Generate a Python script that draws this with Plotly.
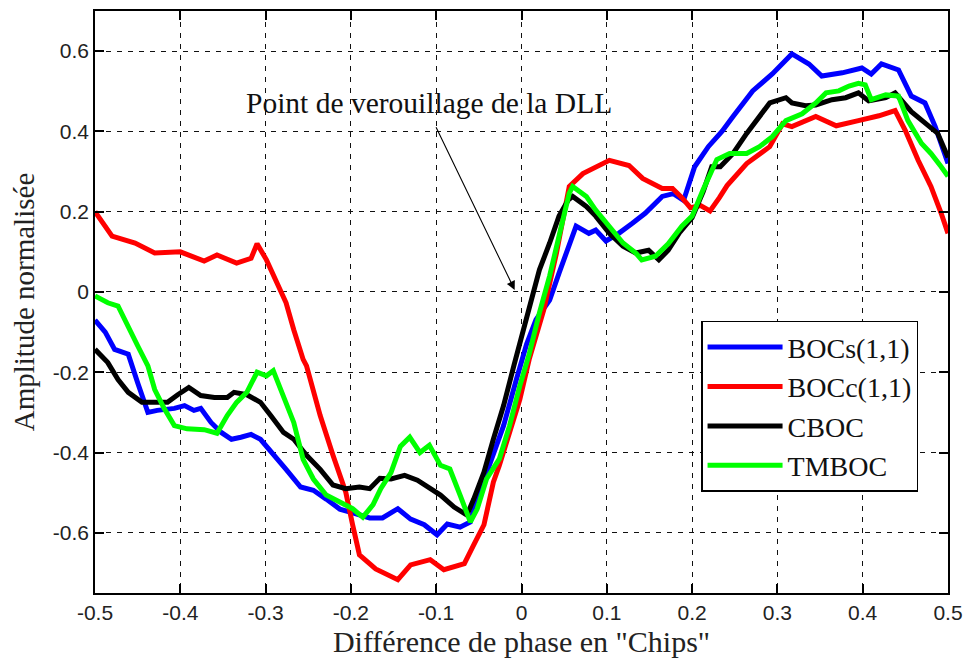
import plotly.graph_objects as go

# ---- data ----
x_bocs = [-0.5, -0.488, -0.477, -0.461, -0.45, -0.438, -0.427, -0.407, -0.395, -0.384, -0.376, -0.364,
          -0.352, -0.34, -0.329, -0.317, -0.306, -0.291, -0.276, -0.259, -0.244, -0.229, -0.213, -0.198,
          -0.178, -0.163, -0.145, -0.130, -0.114, -0.099, -0.087, -0.072, -0.06, -0.052, -0.037, -0.021,
          -0.006, 0.006, 0.017, 0.033, 0.044, 0.056, 0.064, 0.079, 0.087, 0.099, 0.114, 0.13, 0.145, 0.165,
          0.178, 0.19, 0.203, 0.219, 0.235, 0.248, 0.271, 0.294, 0.317, 0.337, 0.352, 0.376, 0.399, 0.41,
          0.422, 0.442, 0.457, 0.473, 0.485, 0.5]
y_bocs = [-0.07, -0.10, -0.143, -0.155, -0.226, -0.30, -0.295, -0.29, -0.283, -0.295, -0.29, -0.325,
          -0.35, -0.367, -0.362, -0.355, -0.367, -0.407, -0.442, -0.486, -0.494, -0.516, -0.541, -0.55,
          -0.563, -0.563, -0.54, -0.566, -0.58, -0.605, -0.578, -0.586, -0.573, -0.516, -0.424, -0.333,
          -0.218, -0.13, -0.069, -0.02, 0.047, 0.114, 0.164, 0.146, 0.154, 0.127, 0.146, 0.171, 0.196, 0.238,
          0.245, 0.228, 0.312, 0.362, 0.40, 0.437, 0.501, 0.543, 0.593, 0.568, 0.538, 0.546, 0.558, 0.543,
          0.568, 0.553, 0.488, 0.471, 0.412, 0.32]

x_bocc = [-0.5, -0.48, -0.453, -0.43, -0.40, -0.372, -0.357, -0.334, -0.317, -0.31, -0.299, -0.287,
          -0.276, -0.267, -0.256, -0.252, -0.236, -0.221, -0.206, -0.198, -0.19, -0.171, -0.16, -0.145,
          -0.13, -0.107, -0.091, -0.067, -0.056, -0.044, -0.033, -0.026, -0.014, -0.002, 0.009, 0.026,
          0.041, 0.049, 0.056, 0.072, 0.095, 0.103, 0.126, 0.142, 0.165, 0.177, 0.188, 0.198, 0.21, 0.221,
          0.232, 0.241, 0.264, 0.291, 0.306, 0.317, 0.345, 0.369, 0.395, 0.419, 0.438, 0.45, 0.465, 0.48,
          0.492, 0.5]
y_bocc = [0.2, 0.139, 0.122, 0.097, 0.10, 0.077, 0.092, 0.072, 0.084, 0.12, 0.08, 0.022,
          -0.027, -0.094, -0.168, -0.184, -0.308, -0.407, -0.499, -0.58, -0.655, -0.69, -0.70, -0.717,
          -0.68, -0.667, -0.692, -0.677, -0.63, -0.58, -0.474, -0.432, -0.35, -0.268, -0.168, -0.045,
          0.097, 0.18, 0.263, 0.295, 0.32, 0.328, 0.315, 0.283, 0.258, 0.258, 0.235, 0.21, 0.215, 0.202,
          0.235, 0.265, 0.32, 0.362, 0.419, 0.412, 0.437, 0.414, 0.427, 0.439, 0.452, 0.402, 0.328, 0.263,
          0.196, 0.146]

x_cboc = [-0.5, -0.485, -0.473, -0.461, -0.445, -0.43, -0.415, -0.403, -0.39, -0.376, -0.36, -0.345,
          -0.337, -0.322, -0.306, -0.294, -0.279, -0.267, -0.252, -0.236, -0.221, -0.206, -0.19, -0.178,
          -0.166, -0.153, -0.137, -0.122, -0.107, -0.095, -0.079, -0.064, -0.056, -0.044, -0.033, -0.021,
          -0.009, 0.002, 0.009, 0.021, 0.033, 0.044, 0.055, 0.06, 0.076, 0.087, 0.103, 0.119, 0.134, 0.149,
          0.161, 0.172, 0.186, 0.2, 0.213, 0.223, 0.233, 0.248, 0.264, 0.279, 0.291, 0.31, 0.317, 0.333,
          0.345, 0.364, 0.38, 0.395, 0.407, 0.427, 0.438, 0.457, 0.473, 0.488, 0.5]
y_cboc = [-0.143, -0.176, -0.218, -0.25, -0.275, -0.275, -0.275, -0.256, -0.238, -0.258, -0.263, -0.263,
          -0.25, -0.256, -0.275, -0.308, -0.35, -0.367, -0.407, -0.442, -0.481, -0.49, -0.486, -0.49,
          -0.464, -0.466, -0.457, -0.469, -0.49, -0.506, -0.536, -0.556, -0.516, -0.449, -0.367, -0.283,
          -0.184, -0.10, -0.035, 0.055, 0.122, 0.189, 0.23, 0.238, 0.213, 0.189, 0.146, 0.114, 0.097, 0.104,
          0.08, 0.104, 0.15, 0.185, 0.25, 0.312, 0.312, 0.345, 0.395, 0.437, 0.471, 0.484, 0.471, 0.464,
          0.466, 0.479, 0.484, 0.496, 0.476, 0.484, 0.496, 0.449, 0.419, 0.395, 0.335]

x_tmboc = [-0.5, -0.485, -0.473, -0.461, -0.45, -0.438, -0.43, -0.419, -0.407, -0.392, -0.372, -0.357,
           -0.345, -0.334, -0.322, -0.31, -0.299, -0.291, -0.279, -0.267, -0.256, -0.244, -0.229, -0.213,
           -0.198, -0.186, -0.174, -0.165, -0.153, -0.142, -0.131, -0.119, -0.108, -0.095, -0.084, -0.072,
           -0.06, -0.052, -0.041, -0.026, -0.014, -0.002, 0.009, 0.021, 0.033, 0.044, 0.056, 0.06, 0.076,
           0.087, 0.103, 0.119, 0.134, 0.141, 0.157, 0.172, 0.188, 0.2, 0.213, 0.229, 0.244, 0.264, 0.279,
           0.294, 0.31, 0.329, 0.345, 0.357, 0.372, 0.384, 0.395, 0.403, 0.41, 0.427, 0.442, 0.453, 0.469,
           0.48, 0.492, 0.5]
y_tmboc = [-0.01, -0.027, -0.035, -0.09, -0.134, -0.184, -0.243, -0.29, -0.333, -0.341, -0.343, -0.352,
           -0.308, -0.275, -0.25, -0.2, -0.209, -0.196, -0.258, -0.325, -0.417, -0.466, -0.506, -0.524,
           -0.54, -0.561, -0.53, -0.49, -0.45, -0.385, -0.362, -0.40, -0.382, -0.432, -0.441, -0.506,
           -0.573, -0.541, -0.466, -0.416, -0.333, -0.234, -0.155, -0.052, 0.04, 0.139, 0.246, 0.263, 0.238,
           0.204, 0.163, 0.122, 0.097, 0.08, 0.089, 0.12, 0.164, 0.189, 0.255, 0.33, 0.345, 0.345, 0.362,
           0.387, 0.427, 0.444, 0.471, 0.496, 0.501, 0.513, 0.52, 0.516, 0.479, 0.491, 0.488, 0.427, 0.37,
           0.345, 0.312, 0.288]

series_names = ["BOCs(1,1)", "BOCc(1,1)", "CBOC", "TMBOC"]
series_colors = ["#0000ff", "#ff0000", "#000000", "#00ff00"]

x_tickvals = [-0.5, -0.4, -0.3, -0.2, -0.1, 0, 0.1, 0.2, 0.3, 0.4, 0.5]
x_ticktext = ["-0.5", "-0.4", "-0.3", "-0.2", "-0.1", "0", "0.1", "0.2", "0.3", "0.4", "0.5"]
y_tickvals = [-0.6, -0.4, -0.2, 0, 0.2, 0.4, 0.6]
y_ticktext = ["-0.6", "-0.4", "-0.2", "0", "0.2", "0.4", "0.6"]

SERIF = "Liberation Serif, Times New Roman, serif"
SANS = "Liberation Sans, Arial, sans-serif"

fig = go.Figure()
for xs, ys, name, col in zip([x_bocs, x_bocc, x_cboc, x_tmboc],
                             [y_bocs, y_bocc, y_cboc, y_tmboc],
                             series_names, series_colors):
    fig.add_trace(go.Scatter(x=xs, y=ys, mode="lines", name=name,
                             line=dict(color=col, width=5)))

axis_common = dict(
    showline=True, linecolor="black", linewidth=1.5, mirror="ticks",
    ticks="inside", ticklen=9, tickwidth=1.5, tickcolor="black",
    showgrid=True, gridcolor="#111111", gridwidth=1.2, griddash="5px,6px",
    zeroline=False, tickfont=dict(family=SANS, size=21, color="#222"),
)

fig.update_xaxes(range=[-0.5, 0.5], tickvals=x_tickvals, ticktext=x_ticktext,
                 title=dict(text='Différence de phase en "Chips"',
                            font=dict(family=SERIF, size=30, color="#222"), standoff=8),
                 **axis_common)
fig.update_yaxes(range=[-0.75, 0.7], tickvals=y_tickvals, ticktext=y_ticktext,
                 title=dict(text="Amplitude normalisée",
                            font=dict(family=SERIF, size=29, color="#222"), standoff=10),
                 **axis_common)

fig.add_annotation(x=-0.108, y=0.47, xref="x", yref="y", text="Point de verouillage de la DLL",
                   showarrow=False, font=dict(family=SERIF, size=29.5, color="#111"))
fig.add_annotation(x=-0.008, y=0.005, xref="x", yref="y", ax=-0.101, ay=0.414,
                   axref="x", ayref="y", text="", showarrow=True,
                   arrowhead=2, arrowsize=1.6, arrowwidth=1.1, arrowcolor="black")

fig.update_layout(
    width=972, height=664,
    margin=dict(l=95, r=17, t=9, b=71),
    paper_bgcolor="white", plot_bgcolor="white",
    legend=dict(x=0.7105, y=0.4675, xanchor="left", yanchor="top",
                bgcolor="white", bordercolor="black", borderwidth=1.5,
                font=dict(family=SERIF, size=28, color="#111"),
                itemwidth=75, tracegroupgap=0, entrywidth=150),
    showlegend=True,
)

fig.write_html("out.html")
